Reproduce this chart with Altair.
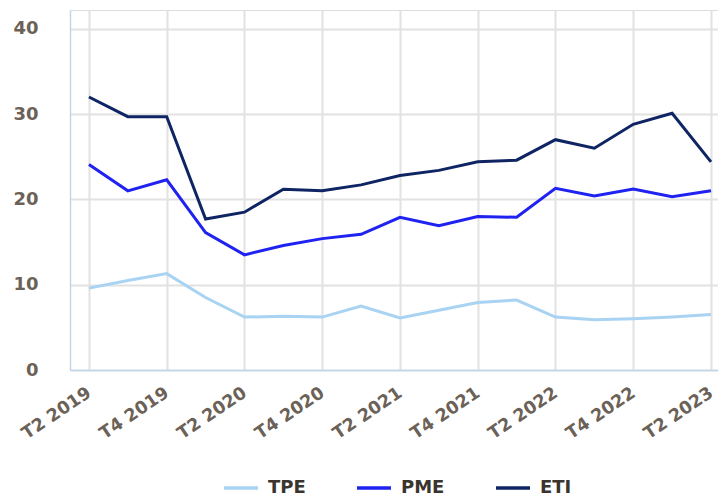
import altair as alt
import pandas as pd

quarters = ["T2 2019", "T3 2019", "T4 2019", "T1 2020", "T2 2020", "T3 2020",
            "T4 2020", "T1 2021", "T2 2021", "T3 2021", "T4 2021", "T1 2022",
            "T2 2022", "T3 2022", "T4 2022", "T1 2023", "T2 2023"]
tpe = [9.6, 10.5, 11.3, 8.5, 6.2, 6.3, 6.2, 7.5, 6.1, 7.0, 7.9, 8.2, 6.2, 5.9, 6.0, 6.2, 6.5]
pme = [24.1, 21.0, 22.3, 16.1, 13.5, 14.6, 15.4, 15.9, 17.9, 16.9, 18.0, 17.9, 21.3, 20.4, 21.2, 20.3, 21.0]
eti = [32.0, 29.7, 29.7, 17.7, 18.5, 21.2, 21.0, 21.7, 22.8, 23.4, 24.4, 24.6, 27.0, 26.0, 28.8, 30.1, 24.4]
series = ["TPE", "PME", "ETI"]
colors = ["#a9d3f2", "#1f22f0", "#0f2463"]
y_ticks = [0, 10, 20, 30, 40]
x_ticks = quarters[::2]

rows = []
for name, vals in zip(series, [tpe, pme, eti]):
    for q, v in zip(quarters, vals):
        rows.append({"trimestre": q, "serie": name, "valeur": v})
df = pd.DataFrame(rows)

FONT = "DejaVu Sans"
LABEL_COLOR = "#6b6157"
AXIS_LINE = "#c3d7ea"
GRID = "#e2e2e2"

chart = alt.Chart(df).mark_line(strokeWidth=3).encode(
    x=alt.X("trimestre:N", sort=quarters, title=None,
            scale=alt.Scale(type="point", padding=0.334, align=0.73),
            axis=alt.Axis(values=x_ticks, labelAngle=-34, labelAlign="right",
                          labelBaseline="middle", labelPadding=21, ticks=False,
                          grid=True, gridColor=GRID, gridWidth=2,
                          domainColor=AXIS_LINE, domainWidth=1.5,
                          labelFont=FONT, labelFontSize=17.5, labelFontWeight="bold",
                          labelColor=LABEL_COLOR)),
    y=alt.Y("valeur:Q", title=None,
            scale=alt.Scale(domain=[0, 42.2], nice=False, zero=True),
            axis=alt.Axis(values=y_ticks, ticks=False, labelPadding=32,
                          grid=True, gridColor=GRID, gridWidth=2,
                          domainColor=AXIS_LINE, domainWidth=1.5,
                          labelFont=FONT, labelFontSize=18, labelFontWeight="bold",
                          labelColor=LABEL_COLOR)),
    color=alt.Color("serie:N", sort=series,
                    scale=alt.Scale(domain=series, range=colors),
                    legend=alt.Legend(title=None, orient="none", direction="horizontal",
                                      legendX=152, legendY=459, padding=0,
                                      symbolType="stroke", symbolSize=1156,
                                      symbolStrokeWidth=3.5, labelOffset=8,
                                      columnPadding=44,
                                      labelFont=FONT, labelFontSize=18,
                                      labelFontWeight="bold", labelColor="#3a342e")),
    order=alt.Order("serie:N"),
).properties(
    width=648, height=360,
    autosize=alt.AutoSizeParams(type="none"),
    padding={"left": 62, "top": 2, "right": 0, "bottom": 126},
).configure_view(stroke=None).configure(background="white")

chart.save("out.html", embed_options={"renderer": "svg", "actions": False})
